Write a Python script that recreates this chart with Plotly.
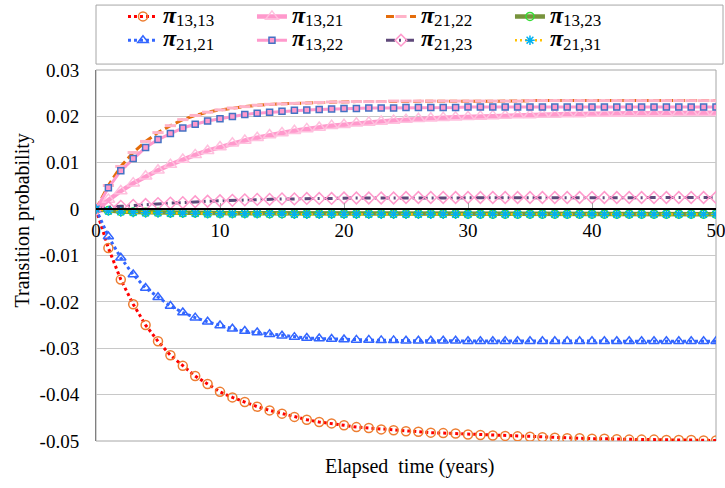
import plotly.graph_objects as go

years = list(range(0, 51))

pi_13_13 = [0, -0.0084, -0.0152, -0.0205, -0.0250, -0.0285, -0.0315, -0.0338, -0.0360, -0.0377,
            -0.0394, -0.0406, -0.0416, -0.0426, -0.0434, -0.0441, -0.0448, -0.0454, -0.0459, -0.0462,
            -0.0466, -0.0470, -0.0472, -0.0475, -0.0477, -0.0479, -0.0480, -0.0482, -0.0483, -0.0484,
            -0.0486, -0.0487, -0.0488, -0.0489, -0.0490, -0.0491, -0.0492, -0.0493, -0.0494, -0.0494,
            -0.0495, -0.0495, -0.0496, -0.0497, -0.0497, -0.0497, -0.0498, -0.0498, -0.0498, -0.0499,
            -0.0499]

pi_21_21 = [0, -0.0059, -0.0105, -0.0141, -0.0170, -0.0190, -0.0209, -0.0223, -0.0234, -0.0243,
            -0.0251, -0.0258, -0.0263, -0.0266, -0.0270, -0.0273, -0.0276, -0.0278, -0.0279, -0.0280,
            -0.0281, -0.0282, -0.0282, -0.0283, -0.0283, -0.0284, -0.0284, -0.0284, -0.0284, -0.0284,
            -0.0285, -0.0285, -0.0285, -0.0285, -0.0285, -0.0285, -0.0285, -0.0285, -0.0285, -0.0285,
            -0.0285, -0.0285, -0.0285, -0.0285, -0.0285, -0.0285, -0.0285, -0.0285, -0.0285, -0.0285,
            -0.0285]

pi_13_21 = [0, 0.0021, 0.0039, 0.0056, 0.0071, 0.0084, 0.0096, 0.0107, 0.0117, 0.0126,
            0.0134, 0.0142, 0.0148, 0.0154, 0.0160, 0.0164, 0.0169, 0.0173, 0.0176, 0.0180,
            0.0182, 0.0185, 0.0187, 0.0189, 0.0191, 0.0193, 0.0195, 0.0196, 0.0197, 0.0198,
            0.0199, 0.0200, 0.0201, 0.0202, 0.0203, 0.0203, 0.0204, 0.0204, 0.0205, 0.0205,
            0.0206, 0.0206, 0.0206, 0.0207, 0.0207, 0.0207, 0.0207, 0.0208, 0.0208, 0.0208,
            0.0208]

pi_13_22 = [0, 0.0046, 0.0083, 0.0109, 0.0133, 0.0150, 0.0163, 0.0175, 0.0183, 0.0190,
            0.0195, 0.0200, 0.0204, 0.0207, 0.0209, 0.0211, 0.0213, 0.0214, 0.0215, 0.0216,
            0.0217, 0.0217, 0.0218, 0.0218, 0.0218, 0.0219, 0.0219, 0.0219, 0.0219, 0.0219,
            0.0220, 0.0220, 0.0220, 0.0220, 0.0220, 0.0220, 0.0220, 0.0220, 0.0220, 0.0220,
            0.0220, 0.0220, 0.0220, 0.0220, 0.0220, 0.0220, 0.0220, 0.0220, 0.0220, 0.0220,
            0.0220]

pi_21_22 = [0, 0.0051, 0.0092, 0.0122, 0.0146, 0.0165, 0.0180, 0.0193, 0.0202, 0.0209,
            0.0214, 0.0218, 0.0221, 0.0224, 0.0226, 0.0227, 0.0228, 0.0229, 0.0230, 0.0231,
            0.0231, 0.0232, 0.0232, 0.0232, 0.0233, 0.0233, 0.0233, 0.0233, 0.0233, 0.0233,
            0.0233, 0.0233, 0.0233, 0.0233, 0.0233, 0.0234, 0.0234, 0.0234, 0.0234, 0.0234,
            0.0234, 0.0234, 0.0234, 0.0234, 0.0234, 0.0234, 0.0234, 0.0234, 0.0234, 0.0234,
            0.0234]

pi_13_23 = [0, -0.0003, -0.0005, -0.0006, -0.0007, -0.0007, -0.0008, -0.0008, -0.0008, -0.0009,
            -0.0009, -0.0009, -0.0009, -0.0009, -0.0010, -0.0010, -0.0010, -0.0010, -0.0010, -0.0010,
            -0.0010, -0.0010, -0.0010, -0.0010, -0.0010, -0.0010, -0.0010, -0.0010, -0.0010, -0.0010,
            -0.0011, -0.0011, -0.0011, -0.0011, -0.0011, -0.0011, -0.0011, -0.0011, -0.0011, -0.0011,
            -0.0011, -0.0011, -0.0011, -0.0011, -0.0011, -0.0011, -0.0011, -0.0011, -0.0011, -0.0011,
            -0.0011]

pi_21_23 = [0, 0.0004, 0.0006, 0.0008, 0.0010, 0.0012, 0.0013, 0.0014, 0.0016, 0.0017,
            0.0018, 0.0019, 0.0020, 0.0021, 0.0021, 0.0022, 0.0022, 0.0023, 0.0023, 0.0023,
            0.0024, 0.0024, 0.0024, 0.0024, 0.0024, 0.0025, 0.0025, 0.0025, 0.0025, 0.0025,
            0.0025, 0.0025, 0.0025, 0.0025, 0.0025, 0.0025, 0.0025, 0.0025, 0.0025, 0.0025,
            0.0025, 0.0025, 0.0025, 0.0025, 0.0025, 0.0025, 0.0025, 0.0025, 0.0025, 0.0025,
            0.0025]

pi_21_31 = [0, -0.0004, -0.0006, -0.0007, -0.0008, -0.0008, -0.0009, -0.0009, -0.0009, -0.0010,
            -0.0010, -0.0010, -0.0010, -0.0010, -0.0010, -0.0010, -0.0011, -0.0011, -0.0011, -0.0011,
            -0.0011, -0.0011, -0.0011, -0.0011, -0.0011, -0.0011, -0.0011, -0.0011, -0.0011, -0.0011,
            -0.0011, -0.0011, -0.0011, -0.0011, -0.0011, -0.0011, -0.0011, -0.0011, -0.0011, -0.0011,
            -0.0011, -0.0011, -0.0011, -0.0011, -0.0011, -0.0011, -0.0011, -0.0011, -0.0011, -0.0011,
            -0.0011]

x_ticks = [0, 10, 20, 30, 40, 50]
x_ticktext = ["0", "10", "20", "30", "40", "50"]
y_ticks = [-0.05, -0.04, -0.03, -0.02, -0.01, 0, 0.01, 0.02, 0.03]
y_ticktext = ["-0.05", "-0.04", "-0.03", "-0.02", "-0.01", "0", "0.01", "0.02", "0.03"]

FONT = "Liberation Serif"


def label(sub):
    return ('<b><i><span style="font-size:24px">π</span></i></b>'
            '<sub><span style="font-size:17px">' + sub + '</span></sub>')


series = [
    ("13,13", pi_13_13, dict(color="#ff0000", width=3, dash="3px,3px"),
     dict(symbol="circle-open", size=9, color="#ed7d31", line=dict(width=1.5))),
    ("13,21", pi_13_21, dict(color="#ff99cc", width=4.5, dash="solid"),
     dict(symbol="triangle-up-open", size=11, color="#ffc0de", line=dict(width=1.5))),
    ("21,22", pi_21_22, dict(color="#e46c0a", width=3, dash="8px,4px"),
     dict(symbol="line-ew", size=8, color="#ffb3c8", line=dict(width=3, color="#ffb3c8"))),
    ("13,23", pi_13_23, dict(color="#77933c", width=4.5, dash="solid"),
     dict(symbol="circle-open", size=8, color="#33dd33", line=dict(width=1.5))),
    ("21,21", pi_21_21, dict(color="#3366ff", width=3, dash="3px,3px"),
     dict(symbol="triangle-up-open", size=9, color="#3366ff", line=dict(width=1.5))),
    ("13,22", pi_13_22, dict(color="#ff99cc", width=3, dash="solid"),
     dict(symbol="square", size=6, color="#ff99cc", line=dict(width=1.5, color="#4472c4"))),
    ("21,23", pi_21_23, dict(color="#5f497a", width=3, dash="9px,4px,2px,4px"),
     dict(symbol="diamond-open", size=9, color="#ff99cc", line=dict(width=1.5))),
    ("21,31", pi_21_31, dict(color="#ffc000", width=2.5, dash="2px,3px"),
     dict(symbol="asterisk-open", size=8, color="#00b0f0", line=dict(width=1.5, color="#00b0f0"))),
]

fig = go.Figure()
for sub, vals, line, marker in series:
    fig.add_trace(go.Scatter(
        x=years, y=vals, mode="lines+markers", name=label(sub),
        line=line, marker=marker, hoverinfo="skip",
    ))

fig.update_layout(
    width=725, height=488,
    margin=dict(l=96, r=9, t=70, b=47, autoexpand=False),
    paper_bgcolor="white", plot_bgcolor="white",
    font=dict(family=FONT, size=18, color="#000000"),
    showlegend=True,
    legend=dict(
        orientation="h", x=0.0435, xanchor="left", y=1.19, yanchor="top",
        entrywidth=84, entrywidthmode="pixels",
        font=dict(family=FONT, size=16, color="#000000"),
        bgcolor="rgba(0,0,0,0)", borderwidth=0,
    ),
    xaxis=dict(
        range=[0, 50], tickvals=x_ticks, ticktext=x_ticktext,
        anchor="free", position=0.625,
        showline=True, linecolor="#000000", linewidth=1.5,
        ticks="inside", ticklen=5, tickcolor="#a0a0a0", tickwidth=1,
        showgrid=False, zeroline=False,
        ticklabelstandoff=4, ticklabeloverflow="allow",
        tickfont=dict(family=FONT, size=19, color="#000000"),
    ),
    yaxis=dict(
        range=[-0.05, 0.03], tickvals=y_ticks, ticktext=y_ticktext,
        showline=True, linecolor="#808080", linewidth=1,
        ticks="", showgrid=True, gridcolor="#c8c8c8", gridwidth=1,
        zeroline=False, ticklabelstandoff=12,
        tickfont=dict(family=FONT, size=19, color="#000000"),
    ),
    shapes=[
        dict(type="rect", xref="paper", yref="paper", x0=0, x1=1, y0=0, y1=1,
             line=dict(color="#a6a6a6", width=1), layer="below"),
        dict(type="rect", xref="paper", yref="paper", x0=0, x1=1.0113, y0=1.016, y1=1.175,
             line=dict(color="#a6a6a6", width=1), layer="below"),
    ],
    annotations=[
        dict(text="Transition probability", xref="paper", yref="paper",
             x=-0.119, y=0.595, textangle=-90, showarrow=False,
             xanchor="center", yanchor="middle",
             font=dict(family=FONT, size=20, color="#000000")),
        dict(text="Elapsed\u00a0 time (years)", xref="paper", yref="paper",
             x=0.506, y=-0.07, showarrow=False, xanchor="center", yanchor="middle",
             font=dict(family=FONT, size=20, color="#000000")),
    ],
)

fig.write_html("out.html", config={"displayModeBar": False},
               post_script="document.body.style.margin='0px';")
